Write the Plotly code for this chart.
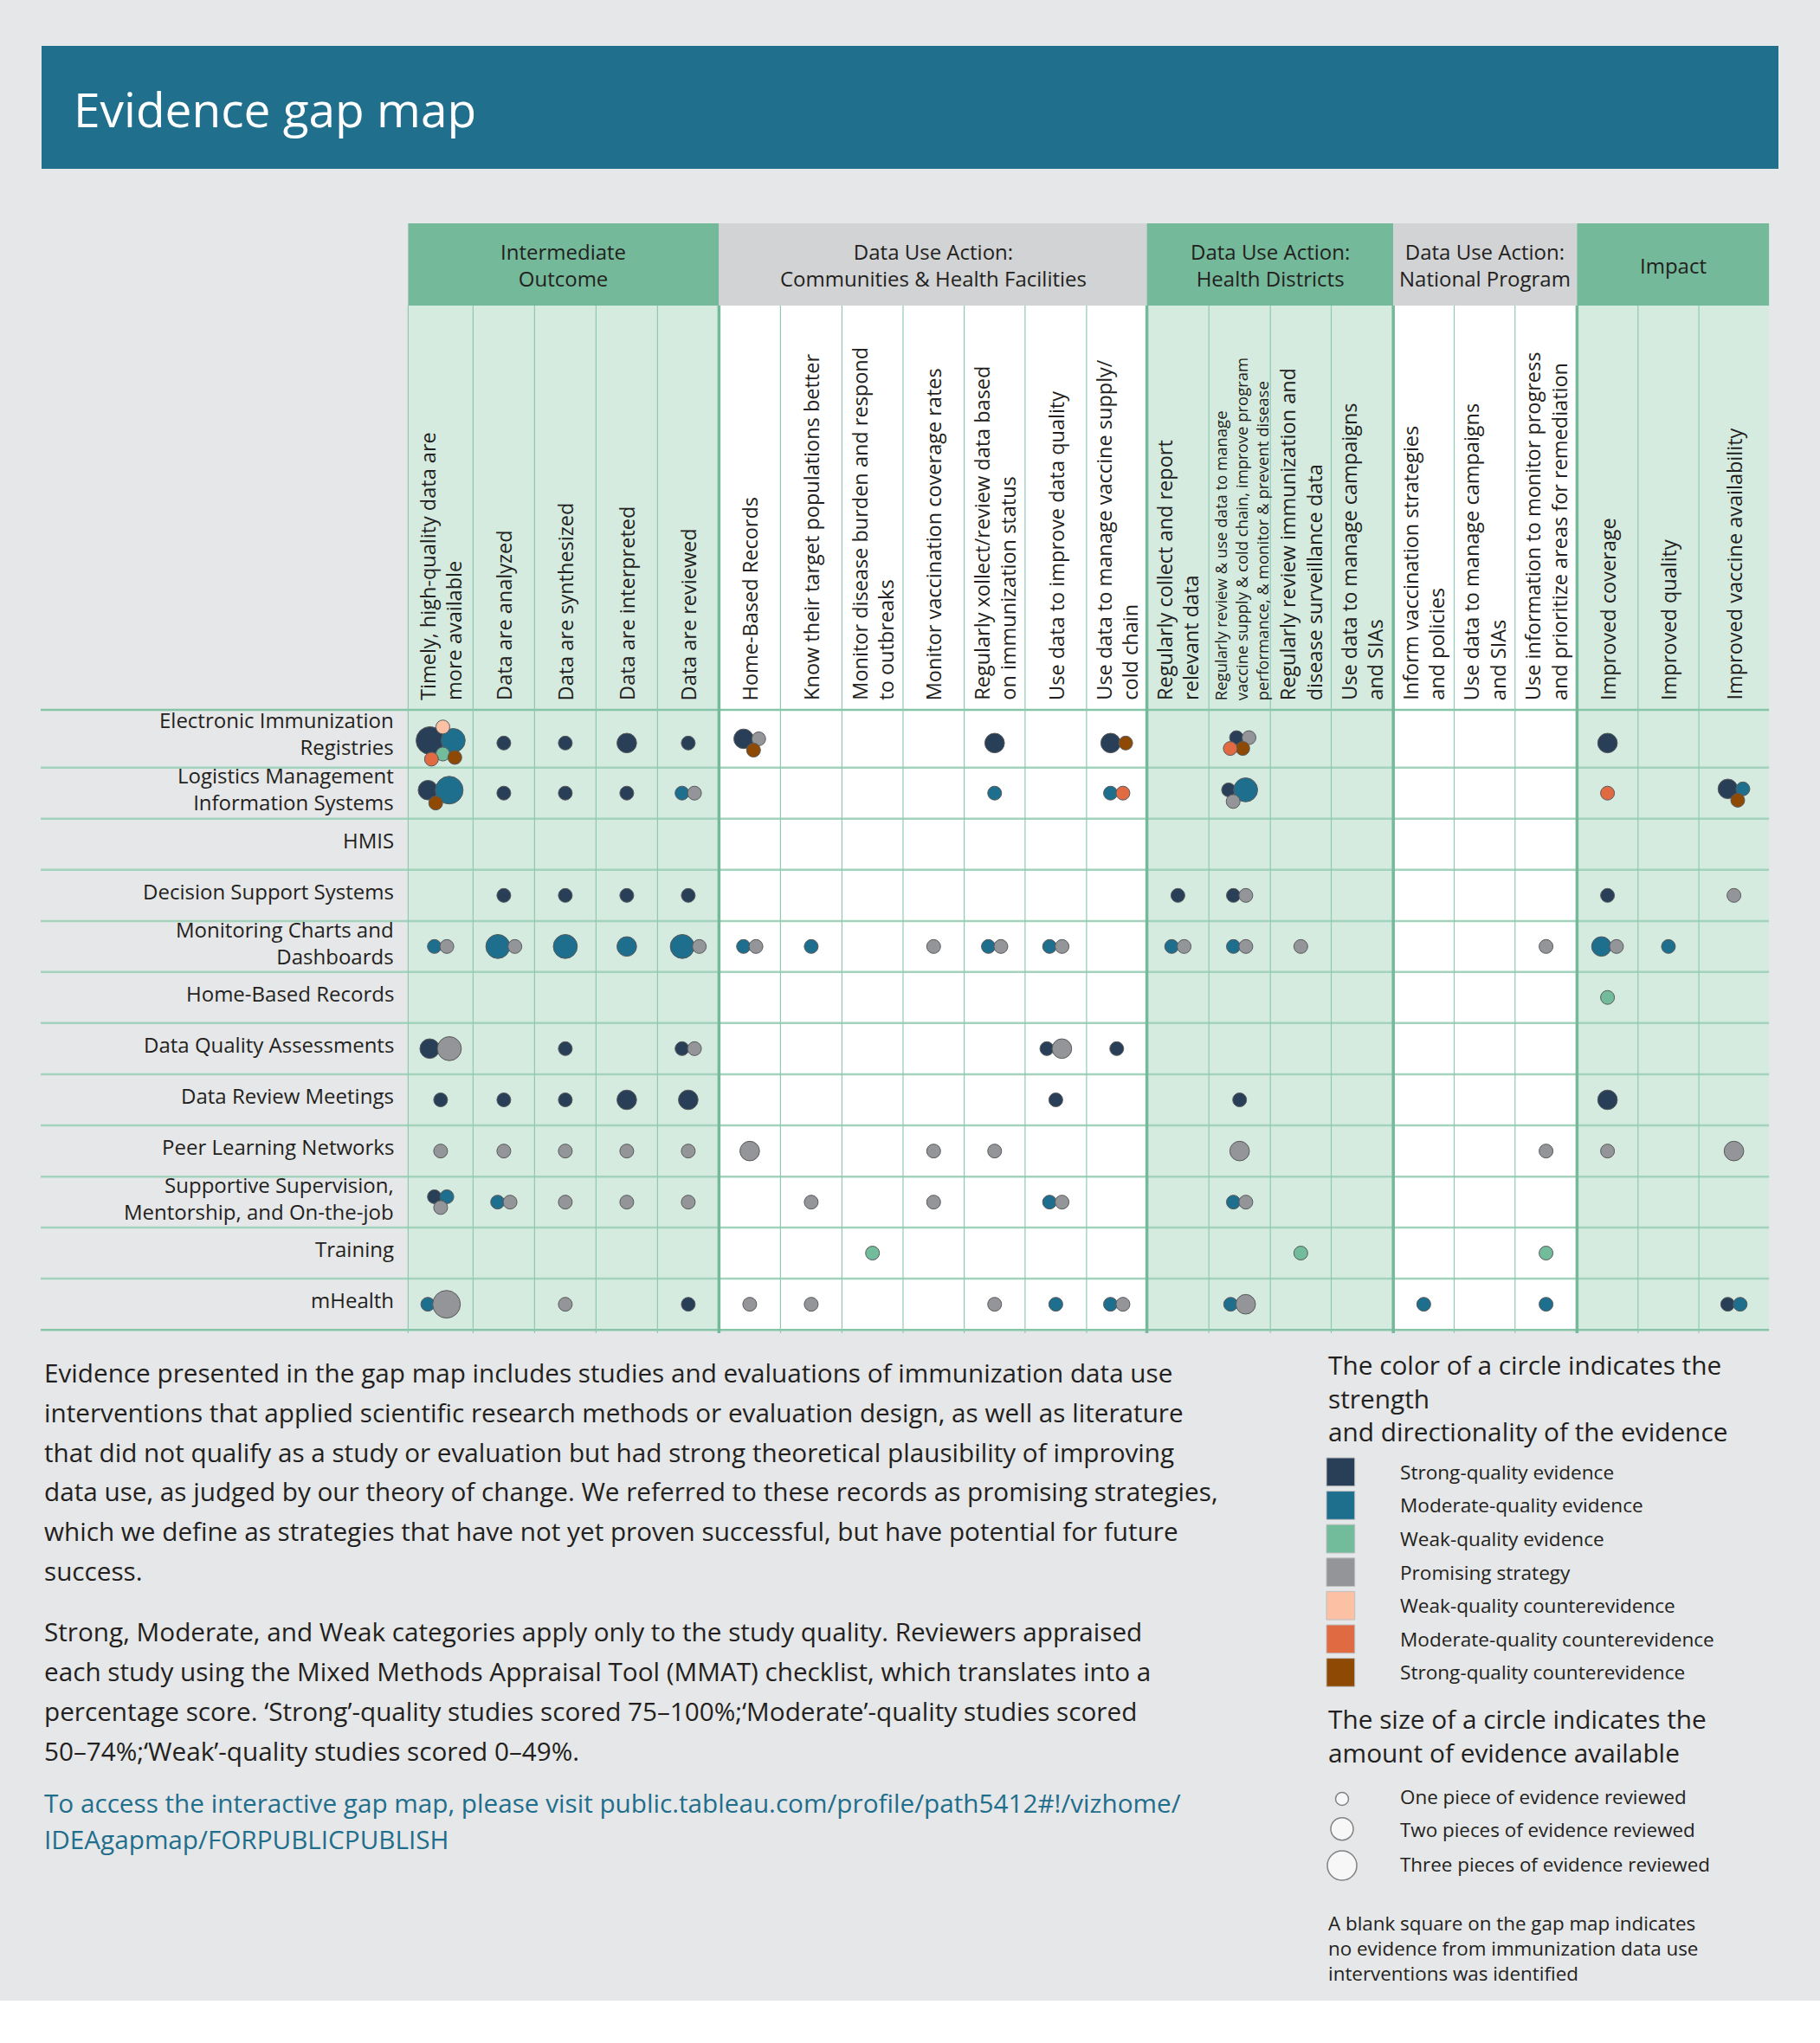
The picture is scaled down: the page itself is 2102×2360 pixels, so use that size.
import math
import plotly.graph_objects as go

# ---------------------------------------------------------------- data
title_text = "Evidence gap map"

group_lines = [
    ["Intermediate", "Outcome"],
    ["Data Use Action:", "Communities & Health Facilities"],
    ["Data Use Action:", "Health Districts"],
    ["Data Use Action:", "National Program"],
    ["Impact"],
]
group_first_col = [0, 5, 12, 16, 19]
group_ncols = [5, 7, 4, 3, 3]
group_is_green = [True, False, True, False, True]

column_labels = [
    ["Timely, high-quality data are", "more available"],
    ["Data are analyzed"],
    ["Data are synthesized"],
    ["Data are interpreted"],
    ["Data are reviewed"],
    ["Home-Based Records"],
    ["Know their target populations better"],
    ["Monitor disease burden and respond", "to outbreaks"],
    ["Monitor vaccination coverage rates"],
    ["Regularly xollect/review data based", "on immunization status"],
    ["Use data to improve data quality"],
    ["Use data to manage vaccine supply/", "cold chain"],
    ["Regularly collect and report", "relevant data"],
    ["Regularly review & use data to manage",
     "vaccine supply & cold chain, improve program",
     "performance, & monitor & prevent disease"],
    ["Regularly review immunization and", "disease surveillance data"],
    ["Use data to manage campaigns", "and SIAs"],
    ["Inform vaccination strategies", "and policies"],
    ["Use data to manage campaigns", "and SIAs"],
    ["Use information to monitor progress", "and prioritize areas for remediation"],
    ["Improved coverage"],
    ["Improved quality"],
    ["Improved vaccine availability"],
]

row_labels = [
    ["Electronic Immunization", "Registries"],
    ["Logistics Management", "Information Systems"],
    ["HMIS"],
    ["Decision Support Systems"],
    ["Monitoring Charts and", "Dashboards"],
    ["Home-Based Records"],
    ["Data Quality Assessments"],
    ["Data Review Meetings"],
    ["Peer Learning Networks"],
    ["Supportive Supervision,", "Mentorship, and On-the-job"],
    ["Training"],
    ["mHealth"],
]

type_codes = ["S", "M", "W", "P", "WC", "MC", "SC"]
type_names = [
    "Strong-quality evidence",
    "Moderate-quality evidence",
    "Weak-quality evidence",
    "Promising strategy",
    "Weak-quality counterevidence",
    "Moderate-quality counterevidence",
    "Strong-quality counterevidence",
]
type_colors = ["#293f58", "#1e6e8e", "#72bb9b", "#939598", "#fcc0a5", "#e06b43", "#8e4a04"]

size_legend_labels = [
    "One piece of evidence reviewed",
    "Two pieces of evidence reviewed",
    "Three pieces of evidence reviewed",
]

# evidence per row: (column index, evidence type, pieces of evidence)
ev_eir = [(0, "S", 4), (0, "M", 3), (0, "W", 1), (0, "WC", 1), (0, "MC", 1), (0, "SC", 1),
          (1, "S", 1), (2, "S", 1), (3, "S", 2), (4, "S", 1),
          (5, "S", 2), (5, "P", 1), (5, "SC", 1),
          (9, "S", 2), (11, "S", 2), (11, "SC", 1),
          (13, "S", 1), (13, "P", 1), (13, "SC", 1), (13, "MC", 1),
          (19, "S", 2)]
ev_lmis = [(0, "S", 2), (0, "M", 4), (0, "SC", 1),
           (1, "S", 1), (2, "S", 1), (3, "S", 1), (4, "M", 1), (4, "P", 1),
           (9, "M", 1), (11, "M", 1), (11, "MC", 1),
           (13, "S", 1), (13, "M", 3), (13, "P", 1),
           (19, "MC", 1), (21, "S", 2), (21, "M", 1), (21, "SC", 1)]
ev_hmis = []
ev_dss = [(1, "S", 1), (2, "S", 1), (3, "S", 1), (4, "S", 1),
          (12, "S", 1), (13, "S", 1), (13, "P", 1), (19, "S", 1), (21, "P", 1)]
ev_dash = [(0, "M", 1), (0, "P", 1), (1, "M", 3), (1, "P", 1), (2, "M", 3), (3, "M", 2),
           (4, "M", 3), (4, "P", 1), (5, "M", 1), (5, "P", 1), (6, "M", 1), (8, "P", 1),
           (9, "M", 1), (9, "P", 1), (10, "M", 1), (10, "P", 1),
           (12, "M", 1), (12, "P", 1), (13, "M", 1), (13, "P", 1), (14, "P", 1),
           (18, "P", 1), (19, "M", 2), (19, "P", 1), (20, "M", 1)]
ev_hbr = [(19, "W", 1)]
ev_dqa = [(0, "S", 2), (0, "P", 3), (2, "S", 1), (4, "S", 1), (4, "P", 1),
          (10, "S", 1), (10, "P", 2), (11, "S", 1)]
ev_drm = [(0, "S", 1), (1, "S", 1), (2, "S", 1), (3, "S", 2), (4, "S", 2),
          (10, "S", 1), (13, "S", 1), (19, "S", 2)]
ev_pln = [(0, "P", 1), (1, "P", 1), (2, "P", 1), (3, "P", 1), (4, "P", 1), (5, "P", 2),
          (8, "P", 1), (9, "P", 1), (13, "P", 2), (18, "P", 1), (19, "P", 1), (21, "P", 2)]
ev_ssm = [(0, "S", 1), (0, "M", 1), (0, "P", 1), (1, "M", 1), (1, "P", 1),
          (2, "P", 1), (3, "P", 1), (4, "P", 1), (6, "P", 1), (8, "P", 1),
          (10, "M", 1), (10, "P", 1), (13, "M", 1), (13, "P", 1)]
ev_training = [(7, "W", 1), (14, "W", 1), (18, "W", 1)]
ev_mhealth = [(0, "M", 1), (0, "P", 4), (2, "P", 1), (4, "S", 1), (5, "P", 1), (6, "P", 1),
              (9, "P", 1), (10, "M", 1), (11, "M", 1), (11, "P", 1),
              (13, "M", 1), (13, "P", 2), (16, "M", 1), (18, "M", 1),
              (21, "S", 1), (21, "M", 1)]

evidence_rows = [ev_eir, ev_lmis, ev_hmis, ev_dss, ev_dash, ev_hbr, ev_dqa,
                 ev_drm, ev_pln, ev_ssm, ev_training, ev_mhealth]

body_p1 = [
    "Evidence presented in the gap map includes studies and evaluations of immunization data use",
    "interventions that applied scientific research methods or evaluation design, as well as literature",
    "that did not qualify as a study or evaluation but had strong theoretical plausibility of improving",
    "data use, as judged by our theory of change. We referred to these records as promising strategies,",
    "which we define as strategies that have not yet proven successful, but have potential for future",
    "success.",
]
body_p2 = [
    "Strong, Moderate, and Weak categories apply only to the study quality. Reviewers appraised",
    "each study using the Mixed Methods Appraisal Tool (MMAT) checklist, which translates into a",
    "percentage score. \u2018Strong\u2019-quality studies scored 75\u2013100%;\u2018Moderate\u2019-quality studies scored",
    "50\u201374%;\u2018Weak\u2019-quality studies scored 0\u201349%.",
]
link_lines = [
    "To access the interactive gap map, please visit public.tableau.com/profile/path5412#!/vizhome/",
    "IDEAgapmap/FORPUBLICPUBLISH",
]
color_legend_title = ["The color of a circle indicates the", "strength", "and directionality of the evidence"]
size_legend_title = ["The size of a circle indicates the", "amount of evidence available"]
footnote_lines = ["A blank square on the gap map indicates",
                  "no evidence from immunization data use",
                  "interventions was identified"]

# ---------------------------------------------------------------- layout constants
W_PX, H_PX = 2102, 2360
FONT = "Open Sans"
TXT = "#231f20"
PAGE_BG = "#e6e7e8"
GREEN_HEAD = "#74b99a"
GREY_HEAD = "#d1d3d4"
GREEN_COL = "#d5ebe0"

col_edges = [471.4, 546.4, 617.4, 688.4, 759.4, 830.4, 901.4, 972.4, 1043.0, 1113.6,
             1183.9, 1254.9, 1324.6, 1396.2, 1467.2, 1537.5, 1609.2, 1679.5, 1749.8,
             1821.4, 1891.8, 1962.1, 2043.1]
row_edges = [820.0, 886.7, 945.7, 1004.7, 1064.0, 1122.7, 1181.7, 1241.0, 1300.0,
             1359.3, 1418.0, 1477.0, 1536.3]
col_centers = [(a + b) / 2 for a, b in zip(col_edges[:-1], col_edges[1:])]
row_centers = [(a + b) / 2 for a, b in zip(row_edges[:-1], row_edges[1:])]
HEAD_TOP, HEAD_BOT = 258, 353

shapes = []
annotations = []


def rect(x0, y0, x1, y1, color, line_color=None, lw=0, layer="below"):
    shapes.append(dict(type="rect", xref="x", yref="y", x0=x0, y0=y0, x1=x1, y1=y1,
                       fillcolor=color, line=dict(color=line_color or color, width=lw),
                       layer=layer))


def line(x0, y0, x1, y1, color, width):
    shapes.append(dict(type="line", xref="x", yref="y", x0=x0, y0=y0, x1=x1, y1=y1,
                       line=dict(color=color, width=width), layer="below"))


def text(x, mean_baseline, lines_, size, xanchor="left", color=TXT):
    """Text block (one annotation); mean_baseline = average baseline of its lines."""
    if isinstance(lines_, str):
        lines_ = [lines_]
    annotations.append(dict(x=x, y=mean_baseline - 0.388 * size, xref="x", yref="y",
                            text="<br>".join(lines_), showarrow=False, xanchor=xanchor,
                            yanchor="middle", align=xanchor if xanchor != "center" else "center",
                            borderpad=0, font=dict(family=FONT, size=size, color=color)))


# page background and title bar
rect(0, 0, W_PX, 2311, PAGE_BG)
rect(48, 53, 2054, 195, "#206f8d")
text(84, 147, title_text, 55, color="white")

# group headers and column backgrounds
for gi, lines_ in enumerate(group_lines):
    c0 = group_first_col[gi]
    c1 = c0 + group_ncols[gi]
    x0, x1 = col_edges[c0], col_edges[c1]
    rect(x0, HEAD_TOP, x1, HEAD_BOT, GREEN_HEAD if group_is_green[gi] else GREY_HEAD)
    rect(x0, HEAD_BOT, x1, row_edges[-1], GREEN_COL if group_is_green[gi] else "white")
    text((x0 + x1) / 2, 315.5, lines_, 24, xanchor="center")

# horizontal row lines
for ri, y in enumerate(row_edges):
    edge = ri in (0, len(row_edges) - 1)
    line(47, y, col_edges[-1], y, "#86c5a8" if edge else "#a3d2bd", 2.5)

# vertical column lines
group_edges = set(col_edges[c] for c in group_first_col[1:])
for x in col_edges[:-1]:
    if x in group_edges:
        line(x, HEAD_BOT, x, 1540, GREEN_HEAD, 3.5)
    else:
        line(x, HEAD_BOT, x, 1540, "#8fcab0", 1.2)

# rotated column headers
for ci, lines_ in enumerate(column_labels):
    size = 18.5 if len(lines_) == 3 else 23.5
    annotations.append(dict(x=col_centers[ci] + (1.5 if len(lines_) == 3 else 0), y=810,
                            xref="x", yref="y", text="<br>".join(lines_), showarrow=False,
                            textangle=-90, xanchor="center", yanchor="bottom", align="left",
                            borderpad=0, font=dict(family=FONT, size=size, color=TXT)))

# row labels
for ri, lines_ in enumerate(row_labels):
    text(456, row_centers[ri] + (3.0 if ri == 0 else 4.6), lines_, 24, xanchor="right")


# ---------------------------------------------------------------- circle packing
def diameter(n):
    return 16.0 * math.sqrt(n)


def pack(radii, gap=0.9):
    pts = []
    for i, r in enumerate(radii):
        if i == 0:
            pts.append((0.0, 0.0))
            continue
        if i == 1:
            pts.append(((radii[0] + r) * gap, 0.0))
            continue
        wsum = sum(rr ** 2 for rr in radii[:i])
        cx = sum(p[0] * rr ** 2 for p, rr in zip(pts, radii)) / wsum
        cy = sum(p[1] * rr ** 2 for p, rr in zip(pts, radii)) / wsum
        best = None
        for a in range(len(pts)):
            for b in range(a + 1, len(pts)):
                xa, ya = pts[a]
                xb, yb = pts[b]
                da = (radii[a] + r) * gap
                db = (radii[b] + r) * gap
                dx, dy = xb - xa, yb - ya
                d = math.hypot(dx, dy)
                if d == 0 or d > da + db or d < abs(da - db):
                    continue
                l = (da ** 2 - db ** 2 + d ** 2) / (2 * d)
                h = math.sqrt(max(da ** 2 - l ** 2, 0.0))
                mx, my = xa + l * dx / d, ya + l * dy / d
                for s in (1, -1):
                    px, py = mx - s * h * dy / d, my + s * h * dx / d
                    ok = all(math.hypot(px - pts[k][0], py - pts[k][1])
                             >= (radii[k] + r) * gap - 1e-6 for k in range(len(pts)))
                    if ok:
                        score = math.hypot(px - cx, py - cy) - 0.005 * py
                        if best is None or score < best[0]:
                            best = (score, px, py)
        pts.append((best[1], best[2]))
    xmin = min(p[0] - r for p, r in zip(pts, radii))
    xmax = max(p[0] + r for p, r in zip(pts, radii))
    ymin = min(p[1] - r for p, r in zip(pts, radii))
    ymax = max(p[1] + r for p, r in zip(pts, radii))
    ox, oy = (xmin + xmax) / 2, (ymin + ymax) / 2
    return [(p[0] - ox, p[1] - oy) for p in pts]


cx_list, cy_list, sz_list, col_list, hover = [], [], [], [], []
for ri, entries in enumerate(evidence_rows):
    cells = {}
    for c, t, n in entries:
        cells.setdefault(c, []).append((t, n))
    row_mid = row_centers[ri] + (5 if ri == 0 else 0)
    for c, items in cells.items():
        diams = [diameter(n) for _, n in items]
        offs = pack([d / 2 for d in diams])
        for (t, n), d, (ox, oy) in zip(items, diams, offs):
            cx_list.append(col_centers[c] + ox)
            cy_list.append(row_mid + oy)
            sz_list.append(d)
            col_list.append(type_colors[type_codes.index(t)])
            hover.append(f"{' '.join(row_labels[ri])}<br>{' '.join(column_labels[c])}"
                         f"<br>{type_names[type_codes.index(t)]}: {n}")

fig = go.Figure()
fig.add_trace(go.Scatter(
    x=cx_list, y=cy_list, mode="markers", hovertext=hover, hoverinfo="text",
    marker=dict(size=sz_list, color=col_list, line=dict(color="#58595b", width=1), opacity=1),
    showlegend=False))

# ---------------------------------------------------------------- bottom text
for i, s in enumerate(body_p1):
    text(50, 1597 + i * 45.8, s, 29.7)
for i, s in enumerate(body_p2):
    text(50, 1896 + i * 46.0, s, 29.7)
for i, s in enumerate(link_lines):
    text(50, 2093.6 + i * 42.4, s, 29.7, color="#1f6e8c")

# colour legend
text(1533, 1627, color_legend_title, 29.8)
for i, (name, color) in enumerate(zip(type_names, type_colors)):
    top = 1684 + i * 38.6
    rect(1532, top, 1564.7, top + 32.7, color, line_color="#bcbec0", lw=1, layer="above")
    text(1616, top + 25, name, 22.6)

# size legend
text(1533, 2016.5, size_legend_title, 29.8)
fig.add_trace(go.Scatter(
    x=[1550, 1550, 1550], y=[2078, 2112.7, 2155], mode="markers", hoverinfo="skip",
    marker=dict(size=[15, 26, 34], color="white", line=dict(color="#58595b", width=1.5)),
    showlegend=False))
for s, b in zip(size_legend_labels, [2084, 2122, 2162]):
    text(1616, b, s, 22.4)
text(1533, 2259, footnote_lines, 22.4)

fig.update_layout(
    width=W_PX, height=H_PX, autosize=False,
    margin=dict(l=0, r=0, t=0, b=0, pad=0),
    paper_bgcolor="white", plot_bgcolor="rgba(0,0,0,0)",
    xaxis=dict(range=[0, W_PX], visible=False, fixedrange=True, domain=[0, 1]),
    yaxis=dict(range=[H_PX, 0], visible=False, fixedrange=True, domain=[0, 1]),
    shapes=shapes, annotations=annotations,
    font=dict(family=FONT, color=TXT),
    hoverlabel=dict(font=dict(family=FONT)),
)

fig.write_html("out.html", config={"displayModeBar": False},
               post_script="document.body.style.margin='0';document.body.style.overflow='hidden';")
